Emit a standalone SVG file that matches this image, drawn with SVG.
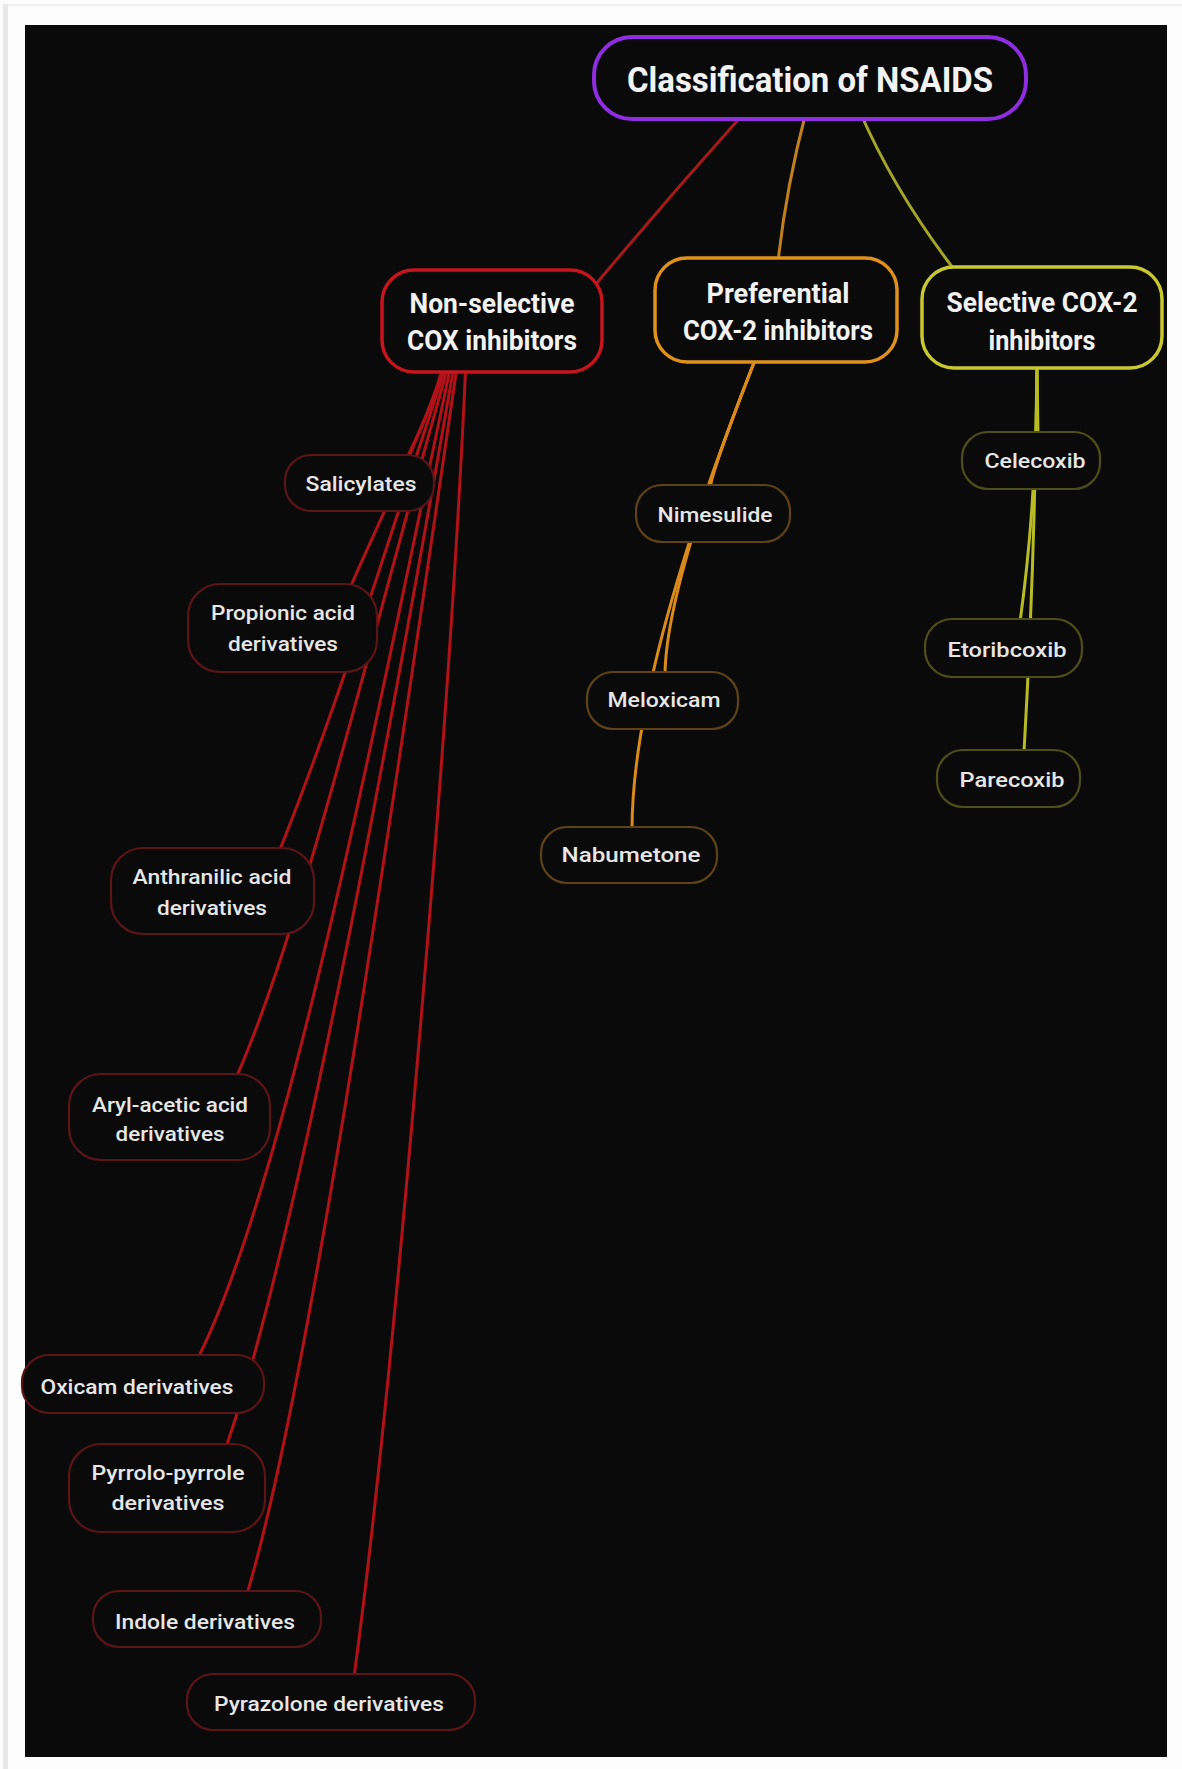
<svg xmlns="http://www.w3.org/2000/svg" width="1182" height="1769" viewBox="0 0 1182 1769">
<style>
.main{font-family:Roboto,"Liberation Sans",sans-serif;font-weight:700;fill:#f2f2f2;text-anchor:middle}
.t{font-size:35px}
.m{font-size:28px}
.c{font-family:Roboto,"Liberation Sans",sans-serif;font-weight:500;font-size:21px;fill:#e6e6e6;text-anchor:middle}
.box{fill:#0a0a0a}
.rc{stroke:#5a1518;stroke-width:2.2}
.oc{stroke:#5e4218;stroke-width:2.2}
.yc{stroke:#4e4e1a;stroke-width:2.2}
.ln{fill:none;stroke-width:3;stroke-linecap:round}
.lr{stroke:#b01218}
.lo{stroke:#d98a1a}
.ly{stroke:#b8bc22}
</style>
<rect x="0" y="0" width="1182" height="1769" fill="#fcfcfc"/>
<rect x="3" y="4" width="5" height="1765" fill="#e8e8e8"/>
<rect x="8" y="4" width="1174" height="2" fill="#f0f0f0"/>
<rect x="25" y="25" width="1142" height="1732" fill="#0a0a0a"/>
<g id="connectors">
<path class="ln" stroke="#a51a1a" d="M745,112 Q668,198 596,284"/>
<path class="ln" stroke="#c0801e" d="M806,112 Q786,188 778,262"/>
<path class="ln" stroke="#a5a52a" d="M860,112 Q895,192 953,268"/>
<path class="ln lr" d="M444,360 C436,400 415,440 406,460"/>
<path class="ln lr" d="M446,360 C425,430 370,540 350,588"/>
<path class="ln lr" d="M448,360 C392,528 343,692 279,852"/>
<path class="ln lr" d="M450,360 C381,598 303,928 236,1078"/>
<path class="ln lr" d="M452,360 C376,718 288,1178 198,1358"/>
<path class="ln lr" d="M455,360 C393,718 296,1247 226,1447"/>
<path class="ln lr" d="M458,360 C401,748 313,1374 247,1594"/>
<path class="ln lr" d="M466,360 C448,768 388,1427 354,1677"/>
<path class="ln lo" d="M757,355 Q710,475 710,490"/>
<path class="ln lo" d="M757,355 Q665,588 665,676"/>
<path class="ln lo" d="M757,355 Q632,670 632,830"/>
<path class="ln ly" d="M1037,360 L1038,436"/>
<path class="ln ly" d="M1037,360 Q1037,500 1020,622"/>
<path class="ln ly" d="M1037,360 Q1035,560 1024,752"/>
</g>
<g id="title">
<rect class="box" x="594" y="37" width="432" height="82" rx="38" stroke="#8e2ee0" stroke-width="4"/>
<text class="main t" x="810" y="92" textLength="366" lengthAdjust="spacingAndGlyphs">Classification of NSAIDS</text>
</g>
<g id="nonselective">
<rect class="box" x="382" y="270" width="220" height="102" rx="32" stroke="#c8141c" stroke-width="3.5"/>
<text class="main m" x="492" y="313" textLength="165" lengthAdjust="spacingAndGlyphs">Non-selective</text>
<text class="main m" x="492" y="350" textLength="170" lengthAdjust="spacingAndGlyphs">COX inhibitors</text>
</g>
<g id="preferential">
<rect class="box" x="655" y="258" width="242" height="104" rx="32" stroke="#e0901c" stroke-width="3.5"/>
<text class="main m" x="778" y="303" textLength="143" lengthAdjust="spacingAndGlyphs">Preferential</text>
<text class="main m" x="778" y="340" textLength="190" lengthAdjust="spacingAndGlyphs">COX-2 inhibitors</text>
</g>
<g id="selective">
<rect class="box" x="922" y="267" width="240" height="101" rx="32" stroke="#c8c832" stroke-width="3.5"/>
<text class="main m" x="1042" y="312" textLength="191" lengthAdjust="spacingAndGlyphs">Selective COX-2</text>
<text class="main m" x="1042" y="350" textLength="107" lengthAdjust="spacingAndGlyphs">inhibitors</text>
</g>
<g id="salicylates">
<rect class="box rc" x="285" y="455" width="149" height="56" rx="26"/>
<text class="c" x="361" y="491" textLength="111" lengthAdjust="spacingAndGlyphs">Salicylates</text>
</g>
<g id="propionic">
<rect class="box rc" x="188" y="584" width="189" height="88" rx="32"/>
<text class="c" x="283" y="620" textLength="144" lengthAdjust="spacingAndGlyphs">Propionic acid</text>
<text class="c" x="283" y="651" textLength="110" lengthAdjust="spacingAndGlyphs">derivatives</text>
</g>
<g id="anthranilic">
<rect class="box rc" x="111" y="848" width="203" height="86" rx="32"/>
<text class="c" x="212" y="884" textLength="159" lengthAdjust="spacingAndGlyphs">Anthranilic acid</text>
<text class="c" x="212" y="915" textLength="110" lengthAdjust="spacingAndGlyphs">derivatives</text>
</g>
<g id="arylacetic">
<rect class="box rc" x="69" y="1074" width="201" height="86" rx="32"/>
<text class="c" x="170" y="1112" textLength="156" lengthAdjust="spacingAndGlyphs">Aryl-acetic acid</text>
<text class="c" x="170" y="1141" textLength="109" lengthAdjust="spacingAndGlyphs">derivatives</text>
</g>
<g id="oxicam">
<rect class="box rc" x="22" y="1355" width="242" height="58" rx="27"/>
<text class="c" x="137" y="1394" textLength="193" lengthAdjust="spacingAndGlyphs">Oxicam derivatives</text>
</g>
<g id="pyrrolo">
<rect class="box rc" x="69" y="1444" width="196" height="88" rx="32"/>
<text class="c" x="168" y="1480" textLength="153" lengthAdjust="spacingAndGlyphs">Pyrrolo-pyrrole</text>
<text class="c" x="168" y="1510" textLength="113" lengthAdjust="spacingAndGlyphs">derivatives</text>
</g>
<g id="indole">
<rect class="box rc" x="93" y="1591" width="228" height="56" rx="26"/>
<text class="c" x="205" y="1629" textLength="180" lengthAdjust="spacingAndGlyphs">Indole derivatives</text>
</g>
<g id="pyrazolone">
<rect class="box rc" x="187" y="1674" width="288" height="56" rx="26"/>
<text class="c" x="329" y="1711" textLength="230" lengthAdjust="spacingAndGlyphs">Pyrazolone derivatives</text>
</g>
<g id="nimesulide">
<rect class="box oc" x="636" y="485" width="154" height="57" rx="26"/>
<text class="c" x="715" y="522" textLength="115" lengthAdjust="spacingAndGlyphs">Nimesulide</text>
</g>
<g id="meloxicam">
<rect class="box oc" x="587" y="672" width="151" height="57" rx="26"/>
<text class="c" x="664" y="707" textLength="113" lengthAdjust="spacingAndGlyphs">Meloxicam</text>
</g>
<g id="nabumetone">
<rect class="box oc" x="541" y="827" width="176" height="56" rx="26"/>
<text class="c" x="631" y="862" textLength="139" lengthAdjust="spacingAndGlyphs">Nabumetone</text>
</g>
<g id="celecoxib">
<rect class="box yc" x="962" y="432" width="138" height="57" rx="26"/>
<text class="c" x="1035" y="468" textLength="101" lengthAdjust="spacingAndGlyphs">Celecoxib</text>
</g>
<g id="etoribcoxib">
<rect class="box yc" x="925" y="619" width="157" height="58" rx="27"/>
<text class="c" x="1007" y="657" textLength="119" lengthAdjust="spacingAndGlyphs">Etoribcoxib</text>
</g>
<g id="parecoxib">
<rect class="box yc" x="937" y="750" width="143" height="57" rx="26"/>
<text class="c" x="1012" y="787" textLength="105" lengthAdjust="spacingAndGlyphs">Parecoxib</text>
</g>
</svg>
